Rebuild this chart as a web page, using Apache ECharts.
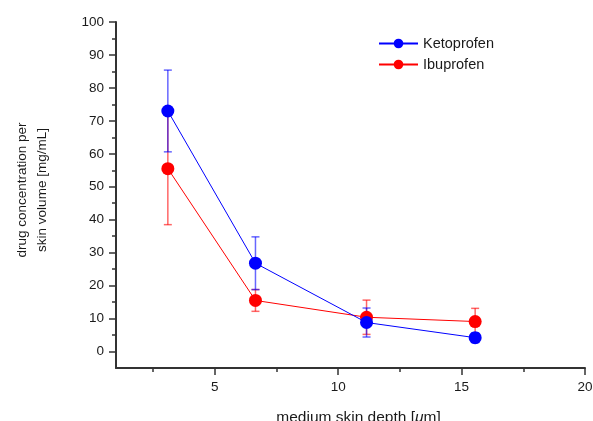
<!DOCTYPE html>
<html><head><meta charset="utf-8">
<script src="https://cdn.jsdelivr.net/npm/echarts@6/dist/echarts.min.js"></script>
<style>html,body{margin:0;padding:0;background:#fff}#c{width:593px;height:421px}</style>
</head><body><div id="c"></div>
<script>
const depth = [3.1, 6.65, 11.15, 15.55];
const ketoprofen = [73, 26.8, 8.8, 4.2];
const ketoprofenErr = [12.4, 8, 4.4, 1.5];
const ibuprofen = [55.5, 15.5, 10.4, 9.1];
const ibuprofenErr = [17, 3.3, 5.2, 4];
const xMajorTicks = [5, 10, 15, 20];
const xMinorTicks = [2.5, 7.5, 12.5, 17.5];
const yMajorTicks = [0, 10, 20, 30, 40, 50, 60, 70, 80, 90, 100];
const yMinorTicks = [5, 15, 25, 35, 45, 55, 65, 75, 85, 95];

const FONT = 'Liberation Sans';
const axisColor = '#333';
const textColor = '#1a1a1a';

function pts(vals) { return depth.map((x, i) => [x, vals[i]]); }
function errData(vals, errs) { return depth.map((x, i) => [x, vals[i] - errs[i], vals[i] + errs[i]]); }
function errSeries(vals, errs, color) {
  return {
    type: 'custom', xAxisIndex: 0, yAxisIndex: 0, z: 1, silent: true,
    data: errData(vals, errs),
    encode: { x: 0, y: [1, 2] },
    renderItem: function (params, api) {
      const lo = api.coord([api.value(0), api.value(1)]);
      const hi = api.coord([api.value(0), api.value(2)]);
      const w = 4;
      const style = { stroke: color, lineWidth: 1.5, opacity: 0.6 };
      return { type: 'group', children: [
        { type: 'line', shape: { x1: lo[0], y1: lo[1], x2: hi[0], y2: hi[1] }, style: style },
        { type: 'line', shape: { x1: lo[0] - w, y1: lo[1], x2: lo[0] + w, y2: lo[1] }, style: style },
        { type: 'line', shape: { x1: hi[0] - w, y1: hi[1], x2: hi[0] + w, y2: hi[1] }, style: style }
      ]};
    }
  };
}

const chart = echarts.init(document.getElementById('c'), null, { renderer: 'canvas' });
chart.setOption({
  animation: false,
  textStyle: { fontFamily: FONT },
  grid: { left: 116, right: 8, top: 22, bottom: 53, containLabel: false, outerBoundsMode: 'none' },
  legend: {
    orient: 'vertical', left: 378, top: 36, padding: 0, itemWidth: 39, itemHeight: 12, itemGap: 6,
    textStyle: { fontFamily: FONT, fontSize: 14.5, color: textColor },
    data: ['Ketoprofen', 'Ibuprofen']
  },
  xAxis: [
    { type: 'value', min: 1, max: 20, position: 'bottom',
      name: 'medium skin depth [{i|μ}m]', nameLocation: 'middle', nameGap: 42,
      nameTextStyle: { fontFamily: FONT, fontSize: 15.5, color: textColor, padding: [0, 0, 0, 16],
        rich: { i: { fontStyle: 'italic', fontFamily: FONT, fontSize: 15.5, color: textColor } } },
      axisLine: { show: true, onZero: false, lineStyle: { color: axisColor, width: 2 } },
      axisTick: { show: true, length: 7, customValues: xMajorTicks, lineStyle: { color: axisColor, width: 1.5 } },
      axisLabel: { customValues: xMajorTicks, fontSize: 13.5, color: textColor, margin: 12, fontFamily: FONT },
      splitLine: { show: false } },
    { type: 'value', min: 1, max: 20, position: 'bottom',
      axisLine: { show: false, onZero: false },
      axisTick: { show: true, length: 4, customValues: xMinorTicks, lineStyle: { color: axisColor, width: 1.5 } },
      axisLabel: { show: false }, splitLine: { show: false } }
  ],
  yAxis: [
    { type: 'value', min: -5, max: 100, position: 'left',
      name: 'drug concentration per\nskin volume [mg/mL]', nameLocation: 'middle', nameGap: 64,
      nameTextStyle: { fontFamily: FONT, fontSize: 13.5, color: textColor, lineHeight: 20, align: 'center', padding: [0, 0, 0, 10] },
      axisLine: { show: true, onZero: false, lineStyle: { color: axisColor, width: 2 } },
      axisTick: { show: true, length: 7, customValues: yMajorTicks, lineStyle: { color: axisColor, width: 1.5 } },
      axisLabel: { customValues: yMajorTicks, fontSize: 13.5, color: textColor, margin: 12, fontFamily: FONT },
      splitLine: { show: false } },
    { type: 'value', min: -5, max: 100, position: 'left',
      axisLine: { show: false, onZero: false },
      axisTick: { show: true, length: 4, customValues: yMinorTicks, lineStyle: { color: axisColor, width: 1.5 } },
      axisLabel: { show: false }, splitLine: { show: false } }
  ],
  series: [
    errSeries(ibuprofen, ibuprofenErr, '#ff0000'),
    errSeries(ketoprofen, ketoprofenErr, '#0000ff'),
    { name: 'Ibuprofen', type: 'line', data: pts(ibuprofen), z: 3,
      symbol: 'circle', symbolSize: 13, color: '#ff0000',
      itemStyle: { color: '#ff0000' }, lineStyle: { color: '#ff0000', width: 1 } },
    { name: 'Ketoprofen', type: 'line', data: pts(ketoprofen), z: 4,
      symbol: 'circle', symbolSize: 13, color: '#0000ff',
      itemStyle: { color: '#0000ff' }, lineStyle: { color: '#0000ff', width: 1 } }
  ]
});
</script></body></html>
